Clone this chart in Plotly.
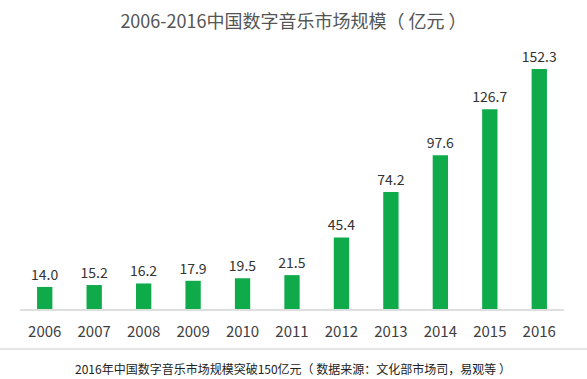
import plotly.graph_objects as go

years = ["2006", "2007", "2008", "2009", "2010", "2011", "2012", "2013", "2014", "2015", "2016"]
values = [14.0, 15.2, 16.2, 17.9, 19.5, 21.5, 45.4, 74.2, 97.6, 126.7, 152.3]
labels = [f"{v:.1f}" for v in values]

title_text = "2006-2016中国数字音乐市场规模（ 亿元 ）"
caption_text = "2016年中国数字音乐市场规模突破150亿元（ 数据来源：文化部市场司，易观等 ）"

FONT = "Noto Sans CJK SC, Microsoft YaHei, sans-serif"
W, H = 587, 379
ML, MR, MT, MB = 20, 23, 40, 70

fig = go.Figure(go.Bar(
    x=years, y=values, text=labels, textposition="outside",
    marker=dict(color="#0fab4b", line=dict(width=0)),
    width=0.31,
    textfont=dict(size=14, color="#333333", family=FONT),
    constraintext="none",
    cliponaxis=False,
    hoverinfo="skip",
))

pw = W - ML - MR
ph = H - MT - MB
fig.update_layout(
    width=W, height=H,
    margin=dict(l=ML, r=MR, t=MT, b=MB),
    paper_bgcolor="white", plot_bgcolor="white",
    showlegend=False,
    font=dict(family=FONT),
    title=dict(text=title_text, x=0.5, xanchor="center", y=1 - 22 / H, yanchor="middle",
               font=dict(size=18, color="#555555", family=FONT)),
    xaxis=dict(showgrid=False, showline=True, linecolor="#dedede", linewidth=1.5,
               tickfont=dict(size=15, color="#404040", family=FONT), ticks="",
               ticklabelstandoff=8),
    yaxis=dict(visible=False, range=[0, 170.7]),
    shapes=[dict(type="line", xref="paper", yref="paper",
                 x0=-ML / pw, x1=1 + MR / pw, y0=-40 / ph, y1=-40 / ph,
                 line=dict(color="#dddddd", width=1.5))],
    annotations=[dict(text=caption_text, xref="paper", yref="paper",
                      x=(293 - ML) / pw, y=-59 / ph, xanchor="center", yanchor="middle",
                      showarrow=False, font=dict(size=12, color="#222222", family=FONT))],
)

fig.write_html("out.html", config={"displayModeBar": False},
               post_script="document.body.style.margin='0';")
